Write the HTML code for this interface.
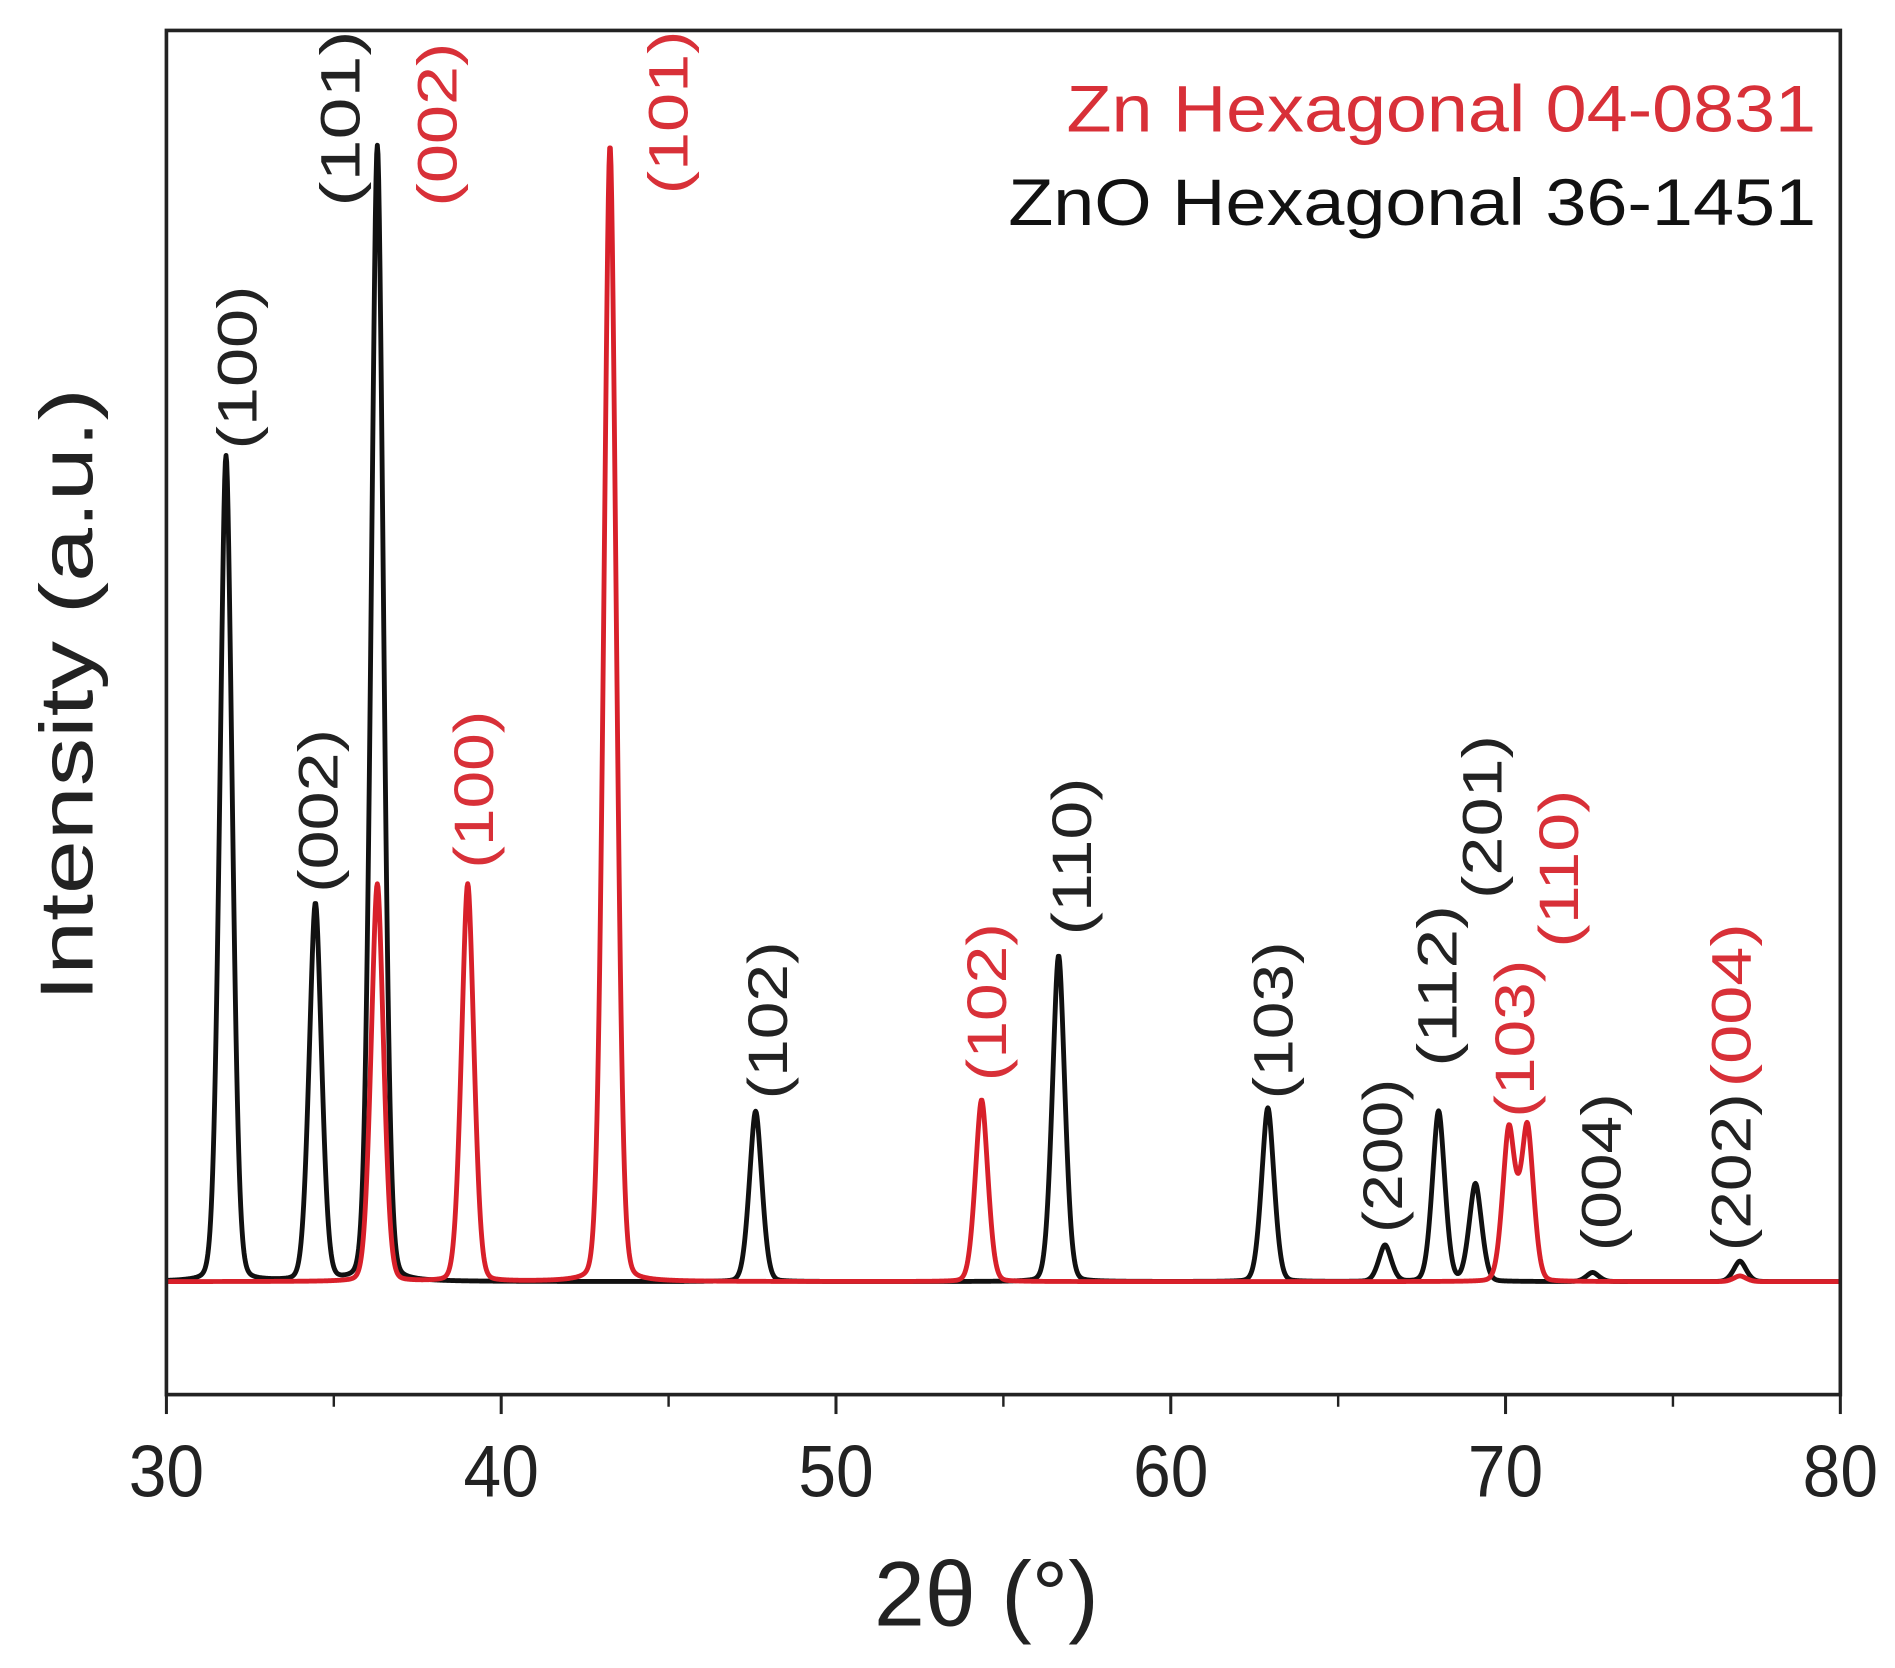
<!DOCTYPE html>
<html><head><meta charset="utf-8"><style>
html,body{margin:0;padding:0;background:#fff;}
svg{display:block;font-family:"Liberation Sans",sans-serif;}
</style></head><body>
<svg id="chart" width="1895" height="1668" viewBox="0 0 1560 1373" xmlns="http://www.w3.org/2000/svg">
<g id="plot"></g>
</svg>
<script>
// ZnO hexagonal 36-1451 peaks
const znoPos = [31.78, 34.45, 36.3, 47.6, 56.65, 62.9, 66.4, 68.0, 69.1, 72.6, 77.0];
const znoInt = [72.7, 33.2, 100, 15, 28.7, 15.3, 3.2, 15, 8.6, 0.8, 1.8];
const znoHkl = ["(100)", "(002)", "(101)", "(102)", "(110)", "(103)", "(200)", "(112)", "(201)", "(004)", "(202)"];
// Zn hexagonal 04-0831 peaks
const znPos = [36.3, 39.0, 43.25, 54.35, 70.1, 70.65, 77.0];
const znInt = [35, 35, 100, 16, 13.4, 13.6, 0.5];
const znHkl = ["(002)", "(100)", "(101)", "(102)", "(103)", "(110)", "(004)"];
const xTicks = [30, 40, 50, 60, 70, 80];
const xMinor = [35, 45, 55, 65, 75];

// layout (label placement: x, y-span top/bottom in display units)
const znoLab = [[195,235,370],[262,600,735],[280,25,170],[632,775,905],[882,640,770],[1048,775,905],[1138,888,1015],[1183,745,878],[1220,605,740],[1318,900,1030],[1425,900,1030]];
const znLab = [[360,35,170],[390,585,715],[550,25,160],[812,760,890],[1247,790,920],[1283,650,780],[1425,760,895]];

const L=137,R=1515,T=25,B=1148,BASE=1055,TOP100=120;
const xs=v=>L+(v-30)/50*(R-L);
const ys=v=>BASE-v/100*(BASE-TOP100);
const NS="http://www.w3.org/2000/svg";
const g=document.getElementById('plot');
function mk(tag,attrs,parent){const e=document.createElementNS(NS,tag);for(const k in attrs)e.setAttribute(k,attrs[k]);(parent||g).appendChild(e);return e;}

function profile(pos,ints,x){let y=0;const w=0.2;for(let i=0;i<pos.length;i++){const d=(x-pos[i])/w;y+=ints[i]*(0.8*Math.exp(-0.5*d*d)+0.2/(1+d*d*2));}return y;}
function seriesPath(pos,ints){let d="";for(let x=30;x<=80.0001;x+=0.02){d+=(d?"L":"M")+xs(x).toFixed(2)+","+ys(profile(pos,ints,x)).toFixed(2);}return d;}

const p1=mk('path',{d:seriesPath(znoPos,znoInt),fill:'none',stroke:'#111',"stroke-width":4,"stroke-linejoin":"round"});


const p2=mk('path',{d:seriesPath(znPos,znInt),fill:'none',stroke:'#d8202a',"stroke-width":4,"stroke-linejoin":"round"});



// frame
const fr=mk('rect',{x:L,y:T,width:R-L,height:B-T,fill:'none',stroke:'#222',"stroke-width":3});



xTicks.forEach(t=>{
 const tk=mk('line',{x1:xs(t),x2:xs(t),y1:B,y2:B+16,stroke:'#222',"stroke-width":2.5});
 
 
 const tl=mk('text',{x:xs(t),y:1232,"font-size":60,"text-anchor":"middle",fill:'#222',"textLength":62,"lengthAdjust":"spacingAndGlyphs"});
 tl.textContent=t;
 
 
});
xMinor.forEach(t=>{
 const tk=mk('line',{x1:xs(t),x2:xs(t),y1:B,y2:B+10,stroke:'#222',"stroke-width":2});
 
 
});

function labels(hkl,lab,color,nm){
 hkl.forEach((h,i)=>{
  const [cx,y0,y1]=lab[i];const cy=(y0+y1)/2;
  const t=mk('text',{x:0,y:0,transform:`translate(${cx+16},${cy}) rotate(-90)`,"font-size":46,"text-anchor":"middle",fill:color,"textLength":y1-y0,"lengthAdjust":"spacingAndGlyphs"});
  t.textContent=h;
  
  
 });
}
labels(znoHkl,znoLab,'#222','zno');
labels(znHkl,znLab,'#d83038','zn');

const lg1=mk('text',{x:1495,y:108,"font-size":54,"text-anchor":"end",fill:'#d83038',"textLength":617,"lengthAdjust":"spacingAndGlyphs"});
lg1.textContent="Zn Hexagonal 04-0831";


const lg2=mk('text',{x:1495,y:185,"font-size":54,"text-anchor":"end",fill:'#111',"textLength":665,"lengthAdjust":"spacingAndGlyphs"});
lg2.textContent="ZnO Hexagonal 36-1451";



const yl=mk('text',{x:0,y:0,transform:"translate(76,572) rotate(-90)","font-size":62,"text-anchor":"middle",fill:'#222',"textLength":505,"lengthAdjust":"spacingAndGlyphs"});
yl.textContent="Intensity (a.u.)";



const xl=mk('text',{x:812,y:1338,"font-size":76,"text-anchor":"middle",fill:'#222',"textLength":185,"lengthAdjust":"spacingAndGlyphs"});
xl.textContent="2θ (°)";


</script>
</body></html>
